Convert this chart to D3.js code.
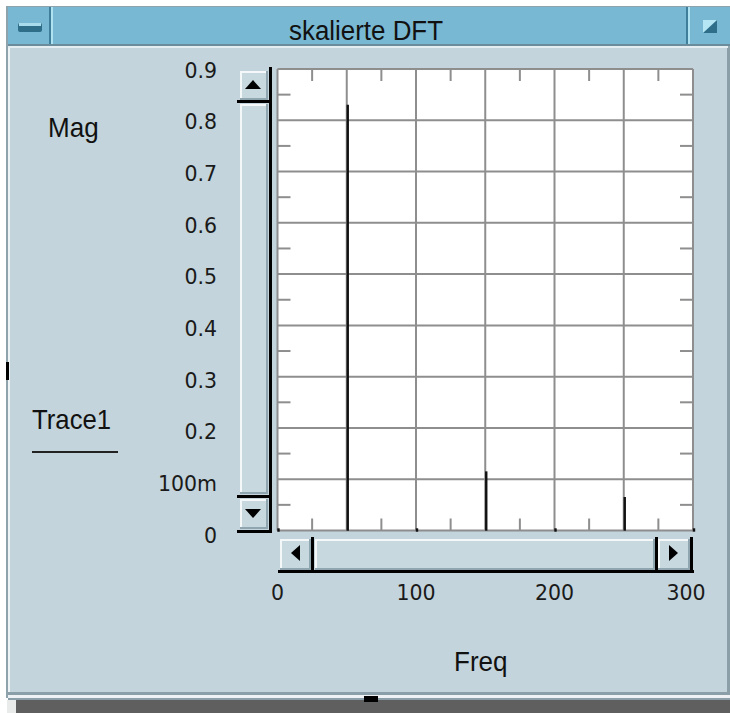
<!DOCTYPE html>
<html>
<head>
<meta charset="utf-8">
<script src="https://cdn.jsdelivr.net/npm/d3@7"></script>
<style>
  body { margin: 0; background: #ffffff; }
  svg { display: block; }
</style>
</head>
<body>
<svg id="chart" width="730" height="713"></svg>
<script>
// Spectrum samples (Hz -> magnitude)
const freqs = [0, 50, 100, 150, 200, 250, 300];
const magnitudes = [0, 0.828, 0, 0.113, 0, 0.063, 0];

// Axis ticks and labels
const yTickValues = [0, 0.1, 0.2, 0.3, 0.4, 0.5, 0.6, 0.7, 0.8, 0.9];
const yTickLabels = ["0", "100m", "0.2", "0.3", "0.4", "0.5", "0.6", "0.7", "0.8", "0.9"];
const xTickValues = [0, 100, 200, 300];
const xTickLabels = ["0", "100", "200", "300"];
const xGridValues = [0, 50, 100, 150, 200, 250, 300];
const xMinorValues = [25, 75, 125, 175, 225, 275];
const yMinorValues = [0.05, 0.15, 0.25, 0.35, 0.45, 0.55, 0.65, 0.75, 0.85];

// Texts
const windowTitle = "skalierte DFT";
const yTitle = "Mag";
const xTitle = "Freq";
const traceName = "Trace1";

const svg = d3.select("#chart");

const C = {
  bar: "#78b8d2", barDark: "#3f7f9c", barLight: "#aee2f0",
  body: "#c3d4dc", face: "#c8d8df", grid: "#8e8e8e", ink: "#111111"
};

// ---------- window frame ----------
svg.append("rect").attr("x", 6).attr("y", 6).attr("width", 724).attr("height", 692).attr("fill", "#8fa3ac");
svg.append("rect").attr("x", 8).attr("y", 7).attr("width", 722).attr("height", 38).attr("fill", C.bar);
svg.append("rect").attr("x", 8).attr("y", 44).attr("width", 722).attr("height", 2).attr("fill", "#6b8d9b");
svg.append("rect").attr("x", 8).attr("y", 46).attr("width", 720).attr("height", 2).attr("fill", "#e4edf1");
svg.append("rect").attr("x", 8).attr("y", 48).attr("width", 2).attr("height", 644).attr("fill", "#eef3f5");
svg.append("rect").attr("x", 10).attr("y", 48).attr("width", 717).attr("height", 644).attr("fill", C.body);
svg.append("rect").attr("x", 727).attr("y", 48).attr("width", 3).attr("height", 646).attr("fill", "#8b9fa8");
svg.append("rect").attr("x", 8).attr("y", 692).attr("width", 722).attr("height", 3).attr("fill", "#8b9fa8");
svg.append("rect").attr("x", 8).attr("y", 695).attr("width", 722).attr("height", 3).attr("fill", "#eef2f4");
svg.append("rect").attr("x", 8).attr("y", 698).attr("width", 722).attr("height", 2).attr("fill", "#8b9fa8");
svg.append("rect").attr("x", 16).attr("y", 700).attr("width", 714).attr("height", 13).attr("fill", "#5f5f5f");
svg.append("rect").attr("x", 7).attr("y", 700).attr("width", 9).attr("height", 13).attr("fill", "#e9eaea");
svg.append("rect").attr("x", 364).attr("y", 696).attr("width", 14).attr("height", 6).attr("fill", "#000");
svg.append("rect").attr("x", 6).attr("y", 362).attr("width", 3).attr("height", 18).attr("fill", "#000");

// title bar separators and buttons
[[49, C.barDark], [51, C.barLight], [686, C.barDark], [688, C.barLight]].forEach(([x, c]) =>
  svg.append("rect").attr("x", x).attr("y", 7).attr("width", 2).attr("height", 37).attr("fill", c));
svg.append("rect").attr("x", 18).attr("y", 23).attr("width", 24).attr("height", 9).attr("rx", 2).attr("fill", "#2f6e89");
svg.append("rect").attr("x", 19).attr("y", 23).attr("width", 22).attr("height", 3).attr("fill", "#a8dcec");
svg.append("rect").attr("x", 703).attr("y", 20).attr("width", 14).attr("height", 13).attr("fill", "#2f6e89");
svg.append("path").attr("d", "M703,20 h14 l-14,13 z").attr("fill", "#b4e6f3");

// condensed label helper: taller glyphs at the same advance width
const titleFont = "Liberation Sans, Arial, sans-serif";
function label(txt, x0, y0, size, squeeze, anchor) {
  return svg.append("text")
    .attr("transform", `translate(${x0},${y0}) scale(${squeeze},1)`)
    .attr("text-anchor", anchor || "start")
    .attr("font-family", titleFont).attr("font-size", size).attr("fill", "#111").text(txt);
}

label(windowTitle, 366, 40, 27, 0.96, "middle");

// ---------- plot ----------
const x = d3.scaleLinear().domain([0, 300]).range([277.5, 693]);
const y = d3.scaleLinear().domain([0, 0.9]).range([530.5, 69]);
const yLabelPos = d3.scaleLinear().domain([0, 0.9]).range([535, 70]);

svg.append("rect").attr("x", x(0)).attr("y", y(0.9))
  .attr("width", x(300) - x(0)).attr("height", y(0) - y(0.9)).attr("fill", "#ffffff");

const grid = svg.append("g").attr("stroke", C.grid).attr("stroke-width", 2);
grid.selectAll(".gx").data(xGridValues).join("line")
  .attr("x1", d => x(d)).attr("x2", d => x(d)).attr("y1", y(0)).attr("y2", y(0.9));
grid.selectAll(".gy").data(yTickValues).join("line")
  .attr("y1", d => y(d)).attr("y2", d => y(d)).attr("x1", x(0)).attr("x2", x(300));
// minor ticks on all four edges
grid.selectAll(".mt").data(xMinorValues).join("line")
  .attr("x1", d => x(d)).attr("x2", d => x(d)).attr("y1", y(0.9)).attr("y2", y(0.9) + 12);
grid.selectAll(".mb").data(xMinorValues).join("line")
  .attr("x1", d => x(d)).attr("x2", d => x(d)).attr("y1", y(0)).attr("y2", y(0) - 12);
grid.selectAll(".ml").data(yMinorValues).join("line")
  .attr("y1", d => y(d)).attr("y2", d => y(d)).attr("x1", x(0)).attr("x2", x(0) + 13);
grid.selectAll(".mr").data(yMinorValues).join("line")
  .attr("y1", d => y(d)).attr("y2", d => y(d)).attr("x1", x(300)).attr("x2", x(300) - 13);

// spectrum stems
svg.append("g").selectAll("line").data(freqs.map((f, i) => [f, magnitudes[i]])).join("line")
  .attr("x1", d => x(d[0]) + 1).attr("x2", d => x(d[0]) + 1)
  .attr("y1", y(0) - 1).attr("y2", d => y(d[1]))
  .attr("stroke", C.ink).attr("stroke-width", 2.4).attr("stroke-linecap", "square");

// ---------- scrollbars ----------
function button(x0, y0, w, h) {
  svg.append("rect").attr("x", x0).attr("y", y0).attr("width", w).attr("height", h).attr("fill", "#8fa6b0");
  svg.append("rect").attr("x", x0).attr("y", y0).attr("width", w - 2).attr("height", h - 2).attr("fill", "#f4f8f9");
  svg.append("rect").attr("x", x0 + 2).attr("y", y0 + 2).attr("width", w - 4).attr("height", h - 4).attr("fill", C.face);
}
// vertical
button(240, 71, 28, 29);
button(240, 104, 28, 390);
button(240, 499, 28, 30);
svg.append("rect").attr("x", 269).attr("y", 67).attr("width", 3).attr("height", 466).attr("fill", "#000");
svg.append("rect").attr("x", 237).attr("y", 100).attr("width", 34).attr("height", 3).attr("fill", "#000");
svg.append("rect").attr("x", 237).attr("y", 495).attr("width", 34).attr("height", 3).attr("fill", "#000");
svg.append("rect").attr("x", 237).attr("y", 530).attr("width", 35).attr("height", 3).attr("fill", "#000");
svg.append("path").attr("d", "M245,89 h16 l-8,-9 z").attr("fill", "#000");
svg.append("path").attr("d", "M245,509 h16 l-8,9 z").attr("fill", "#000");
// horizontal
button(280, 539, 31, 31);
button(315, 539, 340, 31);
button(658, 539, 32, 31);
svg.append("rect").attr("x", 278).attr("y", 570).attr("width", 416).attr("height", 3).attr("fill", "#000");
svg.append("rect").attr("x", 311).attr("y", 537).attr("width", 3).attr("height", 35).attr("fill", "#000");
svg.append("rect").attr("x", 655).attr("y", 537).attr("width", 3).attr("height", 35).attr("fill", "#000");
svg.append("rect").attr("x", 690).attr("y", 537).attr("width", 3).attr("height", 35).attr("fill", "#000");
svg.append("path").attr("d", "M300,545 v16 l-9,-8 z").attr("fill", "#000");
svg.append("path").attr("d", "M669,545 v16 l9,-8 z").attr("fill", "#000");

// ---------- labels ----------
const tickFont = "DejaVu Sans, Verdana, sans-serif";
svg.append("g").selectAll("text").data(yTickValues).join("text")
  .attr("x", 217).attr("y", d => yLabelPos(d) + 7.5)
  .attr("text-anchor", "end").attr("font-family", tickFont).attr("font-size", 20.5)
  .attr("fill", "#1a1a1a").text((d, i) => yTickLabels[i]);
svg.append("g").selectAll("text").data(xTickValues).join("text")
  .attr("x", d => Math.min(x(d), 686)).attr("y", 600)
  .attr("text-anchor", "middle").attr("font-family", tickFont).attr("font-size", 20.5)
  .attr("fill", "#1a1a1a").text((d, i) => xTickLabels[i]);

label(yTitle, 48, 137, 28, 0.93);
label(xTitle, 454, 671, 28, 0.93);
label(traceName, 32, 429, 28, 0.92);
svg.append("rect").attr("x", 32).attr("y", 451).attr("width", 86).attr("height", 2).attr("fill", "#222");
</script>
</body>
</html>
